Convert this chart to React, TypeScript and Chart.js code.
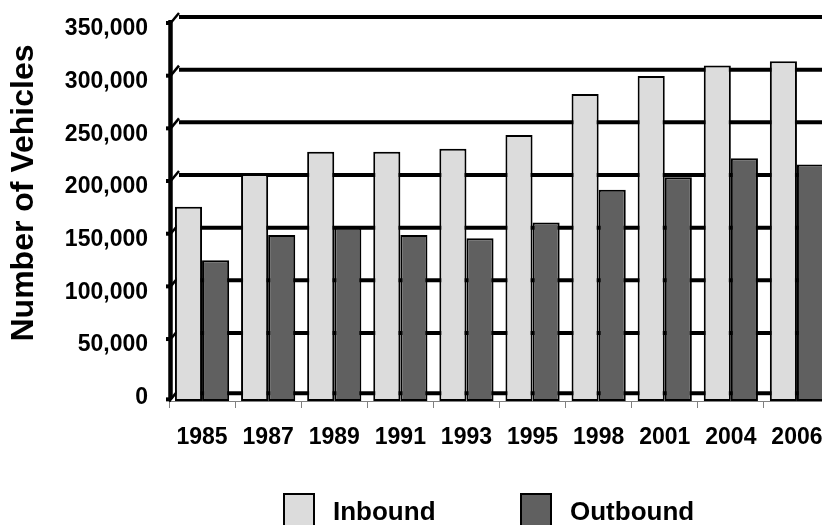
import React, { useEffect, useRef } from "react";
import { Chart, registerables } from "chart.js";

Chart.register(...registerables);

const YEARS = ["1985", "1987", "1989", "1991", "1993", "1995", "1998", "2001", "2004", "2006"];
const INBOUND = [170000, 201000, 222000, 222000, 225000, 238000, 277000, 294000, 304000, 308000];
const OUTBOUND = [119000, 143000, 150000, 143000, 140000, 155000, 186000, 198000, 216000, 210000];
const Y_TICKS = [0, 50000, 100000, 150000, 200000, 250000, 300000, 350000];
const SERIES_LABELS = ["Inbound", "Outbound"];
const SERIES_COLORS = ["#dcdcdc", "#606060"];
const Y_TITLE = "Number of Vehicles";
const Y_MAX = 350000;
const FLOOR = -14500; // depth of the 3-D floor below zero

const FONT = "'Liberation Sans', Arial, sans-serif";

const wallPlugin = {
  id: "wall3d",
  beforeDatasetsDraw(chart: any) {
    const { ctx, chartArea, scales } = chart;
    const ys = scales.y;
    const left = chartArea.left;
    const right = chartArea.right;
    const floorY = (ys.getPixelForValue(0) + ys.getPixelForValue(FLOOR)) / 2;
    ctx.save();
    ctx.strokeStyle = "#000";
    ctx.lineCap = "butt";
    Y_TICKS.forEach((v) => {
      const py = v === 0 ? floorY : ys.getPixelForValue(v);
      ctx.lineWidth = 4;
      ctx.beginPath();
      ctx.moveTo(left + 10, py);
      ctx.lineTo(right, py);
      ctx.stroke();
      ctx.beginPath();
      ctx.moveTo(left - 3, py + 6);
      ctx.lineTo(left + 2, py + 6);
      ctx.stroke();
      ctx.lineWidth = 2.5;
      ctx.beginPath();
      ctx.moveTo(left, py + 8);
      ctx.lineTo(left + 10, py - 4);
      ctx.stroke();
    });
    ctx.lineWidth = 4.5;
    ctx.beginPath();
    ctx.moveTo(left + 1.5, ys.getPixelForValue(Y_MAX) + 3);
    ctx.lineTo(left + 1.5, chartArea.bottom - 2);
    ctx.stroke();
    ctx.restore();
  },
};

const LEGEND_X = [283, 520];
const LEGEND_TOP = 493;
const LEGEND_BOX_W = 32;
const LEGEND_BOX_H = 40;
const LEGEND_GAP = 18;

const decorPlugin = {
  id: "decor",
  afterDraw(chart: any) {
    const { ctx } = chart;
    ctx.save();
    ctx.fillStyle = "#000";
    ctx.font = `bold 32px ${FONT}`;
    ctx.textAlign = "center";
    ctx.textBaseline = "middle";
    ctx.translate(24, 193);
    ctx.rotate(-Math.PI / 2);
    ctx.fillText(Y_TITLE, 0, 0);
    ctx.restore();

    ctx.save();
    chart.data.datasets.forEach((ds: any, i: number) => {
      const x = LEGEND_X[i];
      ctx.fillStyle = ds.backgroundColor;
      ctx.fillRect(x, LEGEND_TOP, LEGEND_BOX_W, LEGEND_BOX_H);
      ctx.strokeStyle = "#000";
      ctx.lineWidth = 2;
      ctx.strokeRect(x + 1, LEGEND_TOP + 1, LEGEND_BOX_W - 2, LEGEND_BOX_H - 2);
      ctx.fillStyle = "#000";
      ctx.font = `bold 26px ${FONT}`;
      ctx.textAlign = "left";
      ctx.textBaseline = "middle";
      ctx.fillText(ds.label, x + LEGEND_BOX_W + LEGEND_GAP, LEGEND_TOP + LEGEND_BOX_H / 2);
    });
    ctx.restore();
  },
};

export default function App() {
  const ref = useRef<HTMLCanvasElement | null>(null);

  useEffect(() => {
    if (!ref.current) return;
    const chart = new Chart(ref.current, {
      type: "bar",
      data: {
        labels: YEARS,
        datasets: [
          {
            label: SERIES_LABELS[0],
            data: INBOUND,
            backgroundColor: SERIES_COLORS[0],
            borderColor: "#000",
            borderWidth: 2,
            borderSkipped: false,
            base: FLOOR,
          },
          {
            label: SERIES_LABELS[1],
            data: OUTBOUND,
            backgroundColor: SERIES_COLORS[1],
            borderColor: "#000",
            borderWidth: 2,
            borderSkipped: false,
            base: FLOOR,
          },
        ],
      },
      options: {
        responsive: false,
        animation: false,
        layout: { padding: { left: 0, right: 10, top: 17, bottom: 94 } },
        datasets: {
          bar: { categoryPercentage: 0.82, barPercentage: 1.0 },
        },
        plugins: {
          legend: { display: false },
          tooltip: { enabled: false },
          title: { display: false },
        },
        scales: {
          x: {
            offset: true,
            grid: {
              display: true,
              drawOnChartArea: false,
              drawTicks: true,
              tickLength: 7,
              color: "#808080",
              lineWidth: 1,
              offset: true,
            },
            border: { display: true, color: "#808080", width: 1 },
            ticks: {
              color: "#000",
              font: { family: FONT, size: 23, weight: "bold" },
              padding: 16,
              maxRotation: 0,
              autoSkip: false,
            },
            afterFit: (s: any) => {
              s.height = 50;
              s.paddingLeft = 0;
              s.paddingRight = 0;
            },
          },
          y: {
            min: FLOOR,
            max: Y_MAX,
            grid: { display: false, drawTicks: false },
            border: { display: false },
            afterBuildTicks: (s: any) => {
              s.ticks = Y_TICKS.map((v) => ({ value: v }));
            },
            ticks: {
              color: "#000",
              font: { family: FONT, size: 23, weight: "bold" },
              padding: 21,
              labelOffset: 12,
              autoSkip: false,
              callback: (v: any) => Number(v).toLocaleString("en-US"),
            },
            afterFit: (s: any) => {
              s.width = 169;
              s.paddingTop = 0;
              s.paddingBottom = 0;
            },
          },
        },
      },
      plugins: [wallPlugin, decorPlugin],
    });
    return () => chart.destroy();
  }, []);

  return (
    <div
      style={{
        position: "fixed",
        left: 0,
        top: 0,
        width: 822,
        height: 525,
        overflow: "hidden",
        background: "#fff",
      }}
    >
      <canvas ref={ref} width={840} height={545} style={{ display: "block", width: 840, height: 545 }} />
    </div>
  );
}
